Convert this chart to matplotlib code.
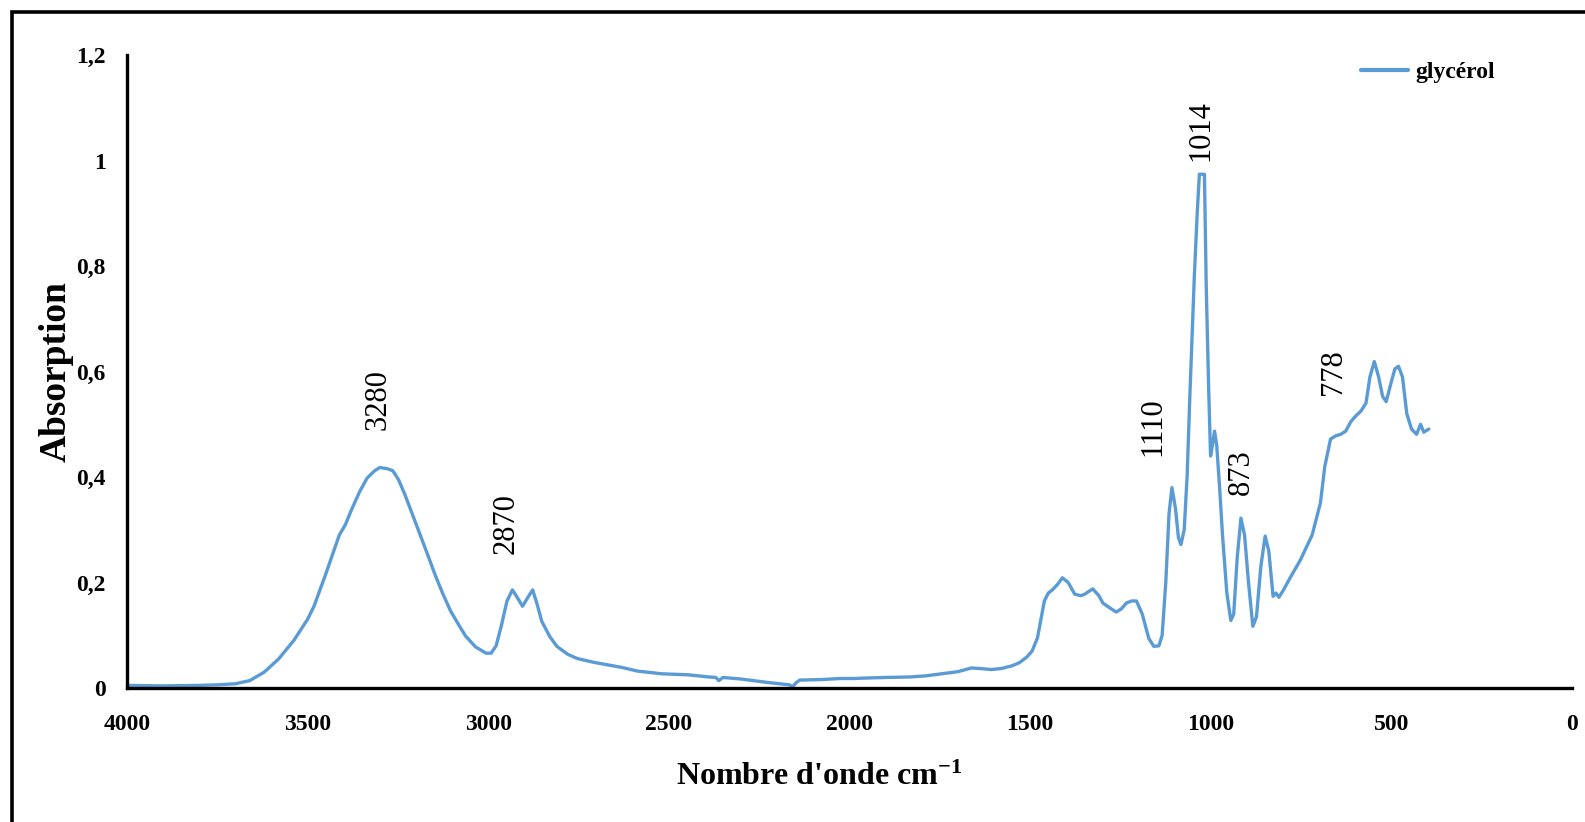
import matplotlib.pyplot as plt
from matplotlib.patches import Rectangle

plt.rcParams["font.family"] = ["Liberation Serif", "DejaVu Serif"]
plt.rcParams["mathtext.fontset"] = "custom"
plt.rcParams["mathtext.rm"] = "Liberation Serif:bold"
plt.rcParams["mathtext.default"] = "regular"

# spectrum (wavenumber cm-1, absorption)
wavenumber = [4000, 3900, 3800, 3750, 3700, 3660, 3620, 3580, 3538, 3500,
              3482, 3450, 3412, 3395, 3380, 3356, 3335, 3314, 3300, 3280,
              3264, 3248, 3230, 3210, 3188, 3166, 3146, 3125, 3104, 3080,
              3062, 3035, 3006, 2992, 2978, 2964, 2948, 2933, 2918, 2905,
              2890, 2877, 2865, 2852, 2830, 2810, 2780, 2754, 2710, 2670,
              2630, 2586, 2520, 2446, 2390, 2370, 2362, 2350, 2334, 2300,
              2278, 2220, 2166, 2158, 2148, 2138, 2080, 2026, 1990, 1950,
              1900, 1831, 1790, 1746, 1700, 1663, 1640, 1607, 1580, 1551,
              1530, 1509, 1495, 1480, 1461, 1450, 1439, 1425, 1411, 1395,
              1377, 1360, 1349, 1327, 1310, 1299, 1280, 1262, 1248, 1234,
              1220, 1206, 1190, 1172, 1158, 1144, 1135, 1125, 1116, 1108,
              1098, 1090, 1083, 1074, 1066, 1058, 1046, 1038, 1032, 1024,
              1018, 1013, 1006, 1001, 996, 990, 984, 976, 968, 956,
              945, 937, 927, 917, 907, 896, 884, 874, 862, 850,
              840, 828, 820, 812, 800, 780, 753, 720, 697, 685,
              669, 655, 641, 627, 613, 599, 585, 571, 560, 548,
              536, 525, 515, 503, 491, 481, 470, 458, 445, 431,
              420, 411, 404, 397]
absorption = [0.005, 0.004, 0.005, 0.006, 0.008, 0.014, 0.030, 0.055, 0.090, 0.130,
              0.155, 0.215, 0.290, 0.310, 0.335, 0.372, 0.398, 0.412, 0.418, 0.416,
              0.412, 0.395, 0.366, 0.330, 0.290, 0.250, 0.213, 0.178, 0.146, 0.118,
              0.098, 0.078, 0.066, 0.066, 0.080, 0.117, 0.165, 0.186, 0.170, 0.155,
              0.172, 0.186, 0.160, 0.127, 0.098, 0.079, 0.064, 0.056, 0.049, 0.044,
              0.039, 0.032, 0.027, 0.025, 0.021, 0.020, 0.014, 0.020, 0.019, 0.017,
              0.015, 0.010, 0.006, 0.002, 0.010, 0.015, 0.016, 0.018, 0.018, 0.019,
              0.020, 0.021, 0.023, 0.027, 0.031, 0.038, 0.037, 0.035, 0.037, 0.042,
              0.048, 0.059, 0.070, 0.095, 0.165, 0.180, 0.186, 0.196, 0.209, 0.200,
              0.178, 0.175, 0.178, 0.188, 0.175, 0.161, 0.152, 0.144, 0.150, 0.161,
              0.165, 0.165, 0.140, 0.094, 0.079, 0.080, 0.100, 0.200, 0.330, 0.380,
              0.340, 0.285, 0.272, 0.300, 0.400, 0.560, 0.780, 0.900, 0.974, 0.974,
              0.974, 0.760, 0.560, 0.440, 0.460, 0.487, 0.460, 0.380, 0.290, 0.180,
              0.128, 0.140, 0.250, 0.322, 0.290, 0.200, 0.117, 0.135, 0.230, 0.288,
              0.260, 0.174, 0.180, 0.172, 0.185, 0.210, 0.242, 0.290, 0.351, 0.420,
              0.472, 0.478, 0.481, 0.487, 0.505, 0.516, 0.525, 0.540, 0.590, 0.619,
              0.590, 0.553, 0.543, 0.575, 0.605, 0.610, 0.590, 0.520, 0.491, 0.481,
              0.500, 0.485, 0.488, 0.491]

peak_labels = ["3280", "2870", "1110", "1014", "873", "778"]
peak_x = [3305, 2950, 1160, 1027, 915, 661]
peak_y = [0.49, 0.255, 0.44, 1.0, 0.366, 0.555]

yticks = [0, 0.2, 0.4, 0.6, 0.8, 1.0, 1.2]
ytick_labels = ["0", "0,2", "0,4", "0,6", "0,8", "1", "1,2"]
xticks = [4000, 3500, 3000, 2500, 2000, 1500, 1000, 500, 0]

blue = "#5B9BD5"

fig = plt.figure(figsize=(15.85, 8.22), dpi=100)
ax = fig.add_axes([0.080, 0.163, 0.912, 0.770])

ax.plot(wavenumber, absorption, color=blue, lw=2.4, label="glycérol",
        solid_joinstyle="round", solid_capstyle="round")

ax.set_xlim(4000, 0)
ax.set_ylim(0, 1.2)
ax.set_xticks(xticks)
ax.set_xticklabels([str(t) for t in xticks])
ax.set_yticks(yticks)
ax.set_yticklabels(ytick_labels)
ax.tick_params(length=0, labelsize=17)
ax.tick_params(axis="x", pad=19)
ax.tick_params(axis="y", pad=15)
for lab in ax.get_xticklabels() + ax.get_yticklabels():
    lab.set_fontweight("bold")

for s in ["top", "right"]:
    ax.spines[s].set_visible(False)
for s in ["left", "bottom"]:
    ax.spines[s].set_linewidth(2.4)
    ax.spines[s].set_color("black")

for lab, x, y in zip(peak_labels, peak_x, peak_y):
    ax.text(x, y, lab, rotation=90, ha="center", va="bottom", fontsize=22)

ax.set_xlabel("Nombre d'onde cm$^{-1}$", fontsize=23, fontweight="bold")
ax.xaxis.set_label_coords(0.479, -0.118)
ax.set_ylabel("Absorption", fontsize=27, fontweight="bold", labelpad=2)

leg = ax.legend(loc="center left", bbox_to_anchor=(0.851, 0.912),
                bbox_transform=fig.transFigure, frameon=False,
                prop={"weight": "bold", "size": 17}, handlelength=2.0,
                handletextpad=0.3, borderpad=0)
for h in leg.get_lines():
    h.set_linewidth(3)

# outer frame (only left and top edges fall inside the image)
fig.patches.append(Rectangle((12 / 1585, -0.1), 1.2, 0.1 + (822 - 12) / 822,
                             transform=fig.transFigure, fill=False,
                             edgecolor="black", lw=2.6))

fig.savefig("out.png", dpi=100)
